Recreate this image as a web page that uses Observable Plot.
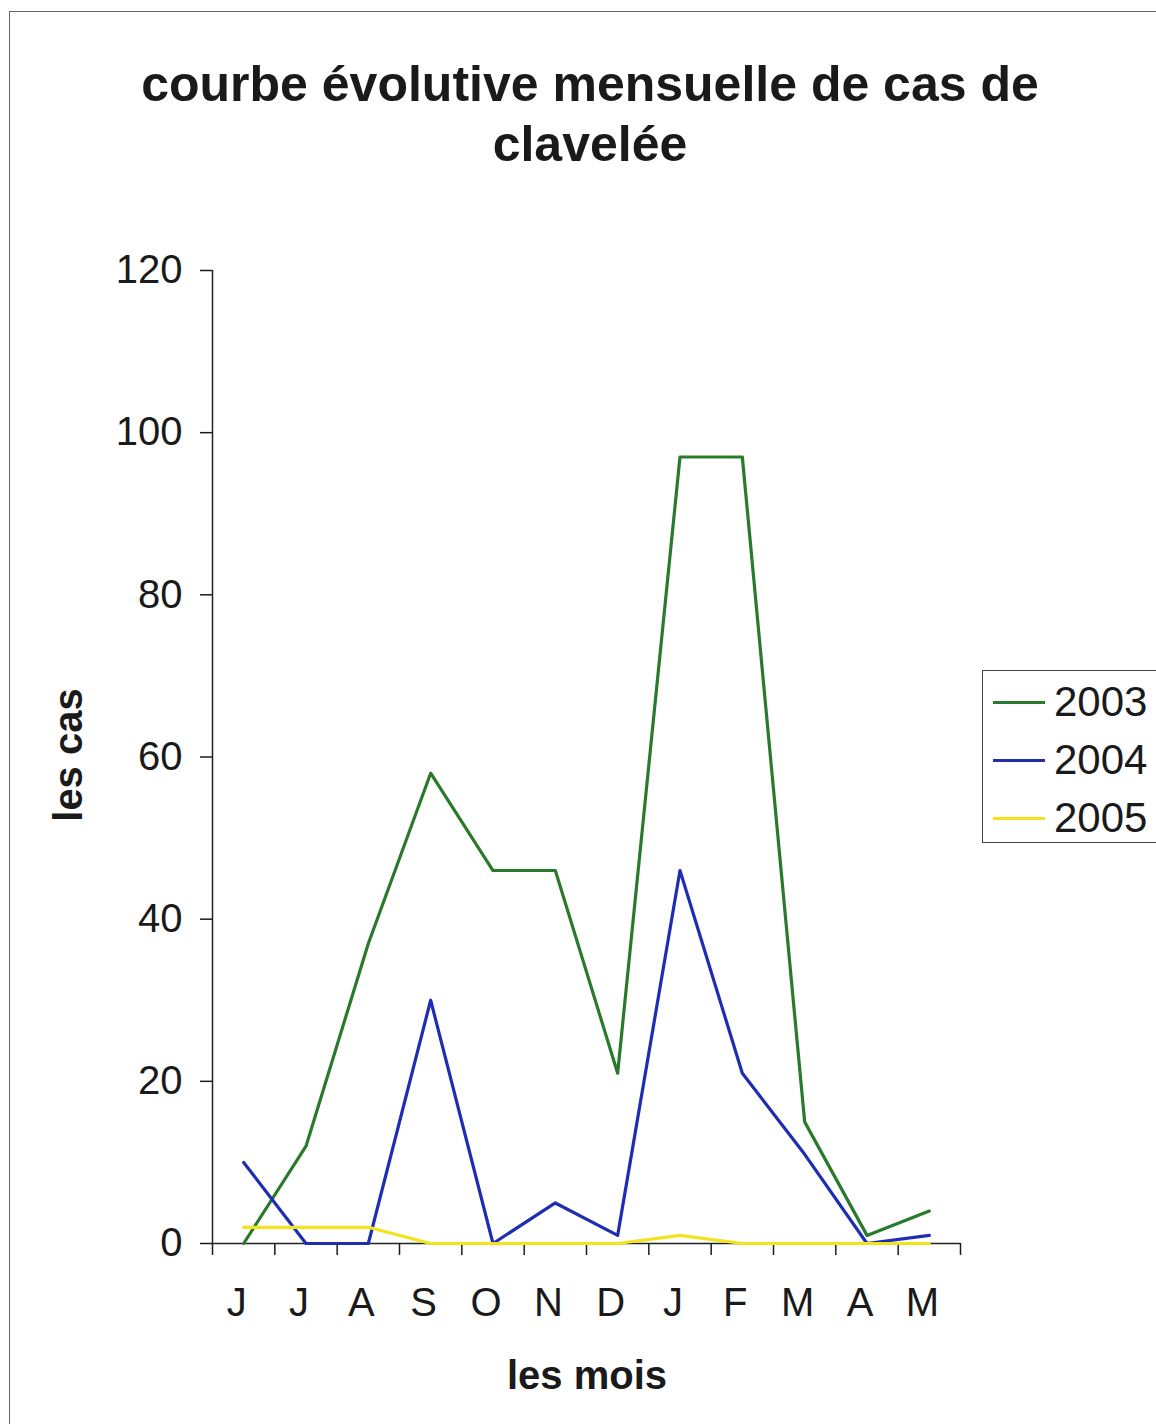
<!DOCTYPE html>
<html>
<head>
<meta charset="utf-8">
<script src="https://cdn.jsdelivr.net/npm/d3@7"></script>
<script src="https://cdn.jsdelivr.net/npm/@observablehq/plot@0.6"></script>
<style>
  html, body { margin: 0; padding: 0; background: #fff; }
  #wrap { position: relative; width: 1156px; height: 1424px; overflow: hidden; font-family: "Liberation Sans", Arial, sans-serif; color: #1a1a1a; }
  #frame { position: absolute; left: 9px; top: 11px; width: 1300px; height: 1500px; border: 1.5px solid #666; box-sizing: border-box; }
  #chart { position: absolute; left: 0; top: 0; }
  #title { position: absolute; left: 0; top: 54px; width: 1180px; text-align: center; font-weight: bold; font-size: 50px; line-height: 60px; }
  #ylab { position: absolute; left: 68px; top: 755px; font-weight: bold; font-size: 40px; transform: translate(-50%, -50%) rotate(-90deg); white-space: nowrap; }
  #xlab { position: absolute; left: 587px; top: 1375px; font-weight: bold; font-size: 40px; transform: translate(-50%, -50%); white-space: nowrap; }
  #legend { position: absolute; left: 982px; top: 670px; width: 200px; height: 173px; border: 1.5px solid #444; box-sizing: border-box; }
  .item { position: absolute; left: 10px; height: 40px; display: flex; align-items: center; font-size: 42px; }
  .item span.sw { display: inline-block; width: 52px; height: 3px; margin-right: 9px; }
</style>
</head>
<body>
<div id="wrap">
  <div id="frame"></div>
  <div id="chart"></div>
  <div id="title">courbe évolutive mensuelle de cas de<br>clavelée</div>
  <div id="ylab">les cas</div>
  <div id="xlab">les mois</div>
  <div id="legend"></div>
</div>
<script>
// Months from June to May
const months = ["J", "J", "A", "S", "O", "N", "D", "J", "F", "M", "A", "M"];
const years = ["2003", "2004", "2005"];
const cases2003 = [0, 12, 37, 58, 46, 46, 21, 97, 97, 15, 1, 4];
const cases2004 = [10, 0, 0, 30, 0, 5, 1, 46, 21, 11, 0, 1];
const cases2005 = [2, 2, 2, 0, 0, 0, 0, 1, 0, 0, 0, 0];
const yTicks = [0, 20, 40, 60, 80, 100, 120];
const colors = ["#2a7a2c", "#1f2db2", "#f2e31b"];

const series = [cases2003, cases2004, cases2005];
const rows = series.flatMap((vals, s) =>
  vals.map((v, i) => ({ year: years[s], i: i + 0.5, v }))
);

const chart = Plot.plot({
  width: 1156,
  height: 1424,
  marginLeft: 212,
  marginRight: 196,
  marginTop: 270,
  marginBottom: 181,
  style: { fontFamily: "Liberation Sans, Arial, sans-serif", color: "#1a1a1a", background: "transparent" },
  x: { domain: [0, 12] },
  y: { domain: [0, 120] },
  color: { domain: years, range: colors },
  marks: [
    Plot.axisY({ ticks: yTicks, tickSize: 12, tickPadding: 18, fontSize: 40, label: null, strokeWidth: 1.5 }),
    Plot.axisX({ ticks: d3.range(13), tickSize: 12, tickFormat: () => "", label: null, strokeWidth: 1.5 }),
    Plot.axisX({ ticks: d3.range(12).map(i => i + 0.5), tickSize: 0, tickPadding: 44, dx: -7, fontSize: 40, tickFormat: d => months[d - 0.5], label: null }),
    Plot.ruleX([0], { stroke: "#222", strokeWidth: 1.5 }),
    Plot.ruleY([0], { stroke: "#222", strokeWidth: 1.5 }),
    Plot.line(rows, { x: "i", y: "v", z: "year", stroke: "year", strokeWidth: 3.2 })
  ]
});
document.getElementById("chart").appendChild(chart);

const legend = document.getElementById("legend");
years.forEach((yr, k) => {
  const item = document.createElement("div");
  item.className = "item";
  item.style.top = (11 + k * 58) + "px";
  item.innerHTML = `<span class="sw" style="background:${colors[k]}"></span>${yr}`;
  legend.appendChild(item);
});
</script>
</body>
</html>
